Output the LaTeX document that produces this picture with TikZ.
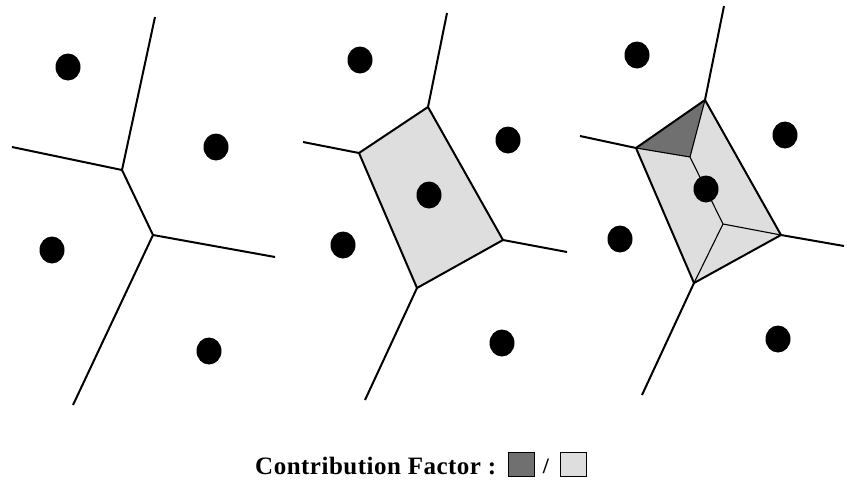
\documentclass[tikz,border=0pt]{standalone}
\usepackage{fontspec}
\setmainfont{Liberation Serif}
\definecolor{lightcell}{RGB}{222,222,222}
\definecolor{darkcell}{RGB}{112,112,112}
\begin{document}
\begin{tikzpicture}[x=1pt,y=-1pt,
  edge/.style={line width=2pt, line join=round},
  thinedge/.style={line width=1.1pt, line join=round},
  legbox/.style={draw=black, line width=1pt, minimum width=26pt, minimum height=24pt, inner sep=0pt}]
\useasboundingbox (0,0) rectangle (847,480);
% ---------- panel 1 ----------
\coordinate (a1) at (155,17);
\coordinate (a2) at (12,147);
\coordinate (A) at (122,170);
\coordinate (B) at (153,235);
\coordinate (a3) at (275,257);
\coordinate (a4) at (73,405);
\draw[edge] (a1) -- (A) -- (B) -- (a3);
\draw[edge] (a2) -- (A);
\draw[edge] (B) -- (a4);
\foreach \p in {(68,67),(216,147),(52,250),(209,351)}
  \fill \p ellipse [x radius=12.5, y radius=13.5];
% ---------- panel 2 ----------
\coordinate (b1) at (447,13);
\coordinate (P1) at (428,107);
\coordinate (b2) at (303,142);
\coordinate (P2) at (359,153);
\coordinate (P3) at (503,240);
\coordinate (P4) at (417,288);
\coordinate (b3) at (567,252);
\coordinate (b4) at (365,400);
\filldraw[edge, fill=lightcell] (P1) -- (P3) -- (P4) -- (P2) -- cycle;
\draw[edge] (b1) -- (P1);
\draw[edge] (b2) -- (P2);
\draw[edge] (b3) -- (P3);
\draw[edge] (b4) -- (P4);
\foreach \p in {(360,60),(508,140),(429,195),(343,245),(502,343)}
  \fill \p ellipse [x radius=12.5, y radius=13.5];
% ---------- panel 3 ----------
\coordinate (c1) at (724,6);
\coordinate (Q1) at (705,100);
\coordinate (c2) at (580,136);
\coordinate (Q2) at (636,148);
\coordinate (Q3) at (781,235);
\coordinate (Q4) at (694,283);
\coordinate (c3) at (844,246);
\coordinate (c4) at (642,395);
\coordinate (I1) at (690,157);
\coordinate (I2) at (723,224);
\fill[lightcell] (Q1) -- (Q3) -- (Q4) -- (Q2) -- cycle;
\fill[darkcell] (Q1) -- (I1) -- (Q2) -- cycle;
\draw[thinedge] (Q2) -- (I1) -- (Q1);
\draw[thinedge] (I1) -- (I2) -- (Q3);
\draw[thinedge] (I2) -- (Q4);
\draw[edge] (Q1) -- (Q3) -- (Q4) -- (Q2) -- cycle;
\draw[edge] (c1) -- (Q1);
\draw[edge] (c2) -- (Q2);
\draw[edge] (c3) -- (Q3);
\draw[edge] (c4) -- (Q4);
\foreach \p in {(637,55),(785,135),(706,189),(620,239),(778,339)}
  \fill \p ellipse [x radius=12.5, y radius=13.5];
% ---------- legend ----------
\node[anchor=base west, inner sep=0pt, font=\bfseries\fontsize{25}{30}\selectfont\addfontfeature{LetterSpace=2}] (lab) at (255,474) {Contribution Factor :};
\node[legbox, fill=darkcell] (dk) at (521.5,464.5) {};
\node[anchor=base, inner sep=0pt, font=\bfseries\fontsize{22}{26}\selectfont] (sl) at (546,473) {/};
\node[legbox, fill=lightcell] (lt) at (573.5,464.5) {};
\end{tikzpicture}
\end{document}
